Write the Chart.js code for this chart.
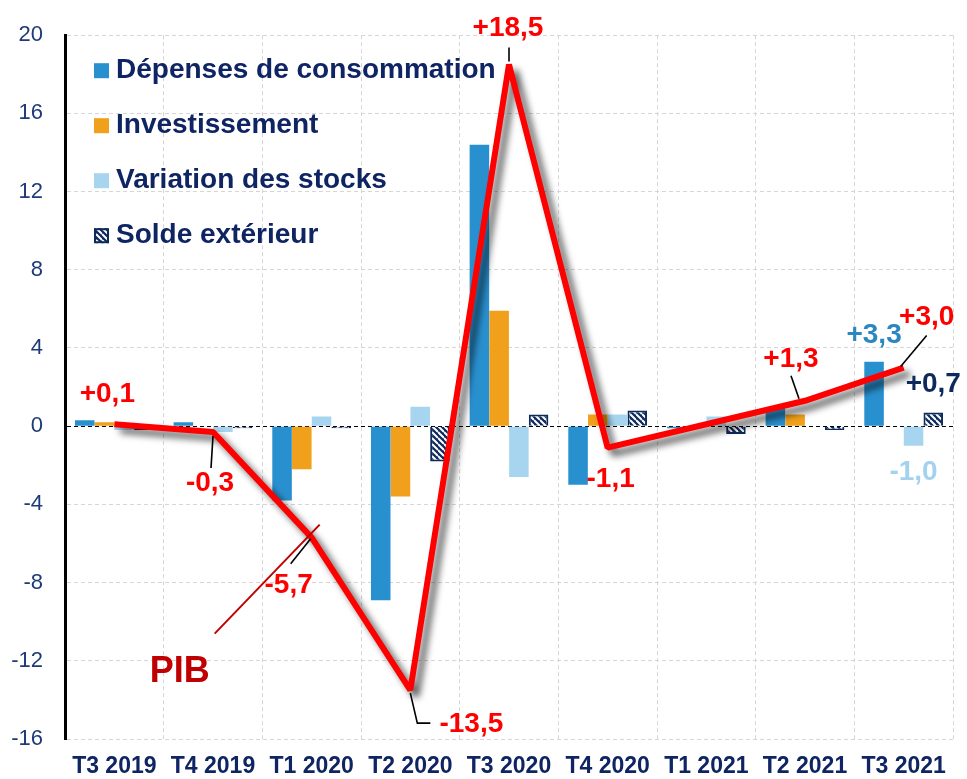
<!DOCTYPE html>
<html>
<head>
<meta charset="utf-8">
<script src="https://cdn.jsdelivr.net/npm/chart.js@4.4.1/dist/chart.umd.min.js"></script>
<style>
  html, body { margin: 0; padding: 0; background: #fff; }
</style>
</head>
<body>
<canvas id="myChart" width="967" height="779"></canvas>
<script>
// quarters and contributions to GDP growth (points)
var trimestres = ["T3 2019", "T4 2019", "T1 2020", "T2 2020", "T3 2020", "T4 2020", "T1 2021", "T2 2021", "T3 2021"];
var consommation = [0.3, 0.2, -3.8, -8.9, 14.4, -3.0, -0.1, 0.9, 3.3];
var investissement = [0.2, 0.0, -2.2, -3.6, 5.9, 0.6, 0.0, 0.6, 0.0];
var stocks = [-0.2, -0.3, 0.5, 1.0, -2.6, 0.6, 0.5, 0.0, -1.0];
var solde = [-0.2, -0.1, -0.1, -1.8, 0.6, 0.8, -0.4, -0.2, 0.7];
var pib = [0.1, -0.3, -5.7, -13.5, 18.5, -1.1, 0.1, 1.3, 3.0];
var yTicks = [-16, -12, -8, -4, 0, 4, 8, 12, 16, 20];

var NAVY = "#0e2a5c";
var TEXT = "#0f2563";

function fmt(v) {
  return (v > 0 ? "+" : "") + v.toFixed(1).replace(".", ",");
}

// hatched fill for the "Solde extérieur" bars
function hatch() {
  var c = document.createElement("canvas");
  c.width = 6; c.height = 6;
  var g = c.getContext("2d");
  g.fillStyle = NAVY;
  g.fillRect(0, 0, 6, 6);
  g.strokeStyle = "#ffffff";
  g.lineWidth = 2;
  g.beginPath();
  for (var k = -1; k <= 1; k++) {
    g.moveTo(0, 6 * k);
    g.lineTo(6, 6 + 6 * k);
  }
  g.stroke();
  return g.createPattern(c, "repeat");
}
var hatchFill = hatch();

// gray drop shadow under the PIB line
var shadowPlugin = {
  id: "ombre",
  beforeDatasetDraw: function(chart, args) {
    if (args.index !== 4) return;
    var ctx = chart.ctx;
    ctx.save();
    ctx.shadowColor = "rgba(0,0,0,0.65)";
    ctx.shadowBlur = 7;
    ctx.shadowOffsetX = 6;
    ctx.shadowOffsetY = 6;
  },
  afterDatasetDraw: function(chart, args) {
    if (args.index !== 4) return;
    chart.ctx.restore();
  }
};

function line(ctx, pts, color, width) {
  ctx.beginPath();
  ctx.strokeStyle = color;
  ctx.lineWidth = width;
  ctx.moveTo(pts[0][0], pts[0][1]);
  for (var i = 1; i < pts.length; i++) ctx.lineTo(pts[i][0], pts[i][1]);
  ctx.stroke();
}

var labelPlugin = {
  id: "etiquettes",
  afterDatasetsDraw: function(chart) {
    var ctx = chart.ctx;
    var area = chart.chartArea;
    var pts = chart.getDatasetMeta(4).data;
    ctx.save();

    // legend inside the plot
    var font = 'bold 28px "Liberation Sans", Arial, sans-serif';
    ctx.font = font;
    ctx.textAlign = "left";
    ctx.textBaseline = "alphabetic";
    for (var i = 0; i < 4; i++) {
      var ds = chart.data.datasets[i];
      var sx = area.left + 29, sy = area.top + 28 + i * 55;
      ctx.fillStyle = ds.backgroundColor;
      ctx.fillRect(sx, sy, 15, 15);
      if (i === 3) {
        ctx.strokeStyle = NAVY;
        ctx.lineWidth = 2;
        ctx.strokeRect(sx + 1, sy + 1, 13, 13);
      }
      ctx.fillStyle = TEXT;
      ctx.fillText(ds.label, sx + 22, sy + 15);
    }

    // PIB value labels and leaders
    var offs = [[-7, -30], [-3, 51], [-23, 48], [61, 34], [-1, -36], [3, 32], null, [-14, -42], [23, -50]];
    var leaders = [
      null,
      [[0, 4], [-2, 36]],
      [[-1, 1], [-21, 26]],
      [[0, 3], [7, 33], [20, 33]],
      [[0, -17], [0, -3]],
      null,
      null,
      [[-6, -2], [-14, -25]],
      [[-3, -1], [23, -32]]
    ];
    ctx.lineJoin = "miter";
    for (var j = 0; j < pts.length; j++) {
      var p = pts[j];
      if (leaders[j]) {
        line(ctx, leaders[j].map(function(o) { return [p.x + o[0], p.y + o[1]]; }), "#000", 1.6);
      }
    }
    ctx.textAlign = "center";
    ctx.textBaseline = "middle";
    ctx.fillStyle = "#ff0000";
    for (j = 0; j < pts.length; j++) {
      if (!offs[j]) continue;
      ctx.fillText(fmt(pib[j]), pts[j].x + offs[j][0], pts[j].y + offs[j][1]);
    }

    // last-quarter component labels
    var b0 = chart.getDatasetMeta(0).data[8];
    var b2 = chart.getDatasetMeta(2).data[8];
    var b3 = chart.getDatasetMeta(3).data[8];
    ctx.fillStyle = "#2b87c0";
    ctx.fillText(fmt(consommation[8]), b0.x, b0.y - 26);
    ctx.fillStyle = NAVY;
    ctx.fillText(fmt(solde[8]), b3.x, b3.y - 28);
    ctx.fillStyle = "#a3d2ef";
    ctx.fillText(fmt(stocks[8]), b2.x, b2.y + 27);

    // PIB tag
    var p2 = pts[2];
    line(ctx, [[p2.x + 8, p2.y - 13], [p2.x - 97, p2.y + 96]], "#c00000", 2);
    ctx.fillStyle = "#c00000";
    ctx.font = 'bold 36px "Liberation Sans", Arial, sans-serif';
    ctx.fillText("PIB", p2.x - 132, p2.y + 134);

    ctx.restore();
  }
};

var chartdata = {
  labels: trimestres,
  datasets: [
    { label: "Dépenses de consommation", data: consommation, backgroundColor: "#2990cf", order: 1 },
    { label: "Investissement", data: investissement, backgroundColor: "#f0a01a", order: 1 },
    { label: "Variation des stocks", data: stocks, backgroundColor: "#a7d5f0", order: 1 },
    { label: "Solde extérieur", data: solde, backgroundColor: hatchFill, borderColor: NAVY, borderWidth: 2, order: 1 },
    {
      type: "line",
      label: "PIB",
      data: pib,
      borderColor: "#ff0000",
      borderWidth: 6,
      borderJoinStyle: "bevel",
      pointRadius: 0,
      tension: 0,
      fill: false,
      order: 0
    }
  ]
};

var options = {
  responsive: false,
  animation: false,
  layout: { padding: { top: 27, right: 14, left: 0, bottom: 0 } },
  categoryPercentage: 0.8,
  barPercentage: 0.99,
  plugins: {
    legend: { display: false },
    tooltip: { enabled: false }
  },
  scales: {
    x: {
      afterFit: function(s) { s.height = 40; },
      grid: { color: "#d6d6d6", lineWidth: 1, drawTicks: false },
      border: { display: false, dash: [4, 3] },
      ticks: {
        color: TEXT,
        padding: 14,
        maxRotation: 0,
        autoSkip: false,
        font: { family: '"Liberation Sans", Arial, sans-serif', size: 23, weight: "bold" }
      }
    },
    y: {
      min: yTicks[0],
      max: yTicks[yTicks.length - 1],
      afterFit: function(s) { s.width = 65; },
      afterBuildTicks: function(s) { s.ticks = yTicks.map(function(v) { return { value: v }; }); },
      grid: {
        color: function(c) { return c.tick && c.tick.value === 0 ? "#000000" : "#d6d6d6"; },
        lineWidth: 1,
        drawTicks: false
      },
      border: { display: true, color: "#000000", width: 3, dash: [4, 3] },
      ticks: {
        color: "#1e3a78",
        padding: 22,
        font: { family: '"Liberation Sans", Arial, sans-serif', size: 22 }
      }
    }
  }
};

var ctx = document.getElementById("myChart");
var chart = new Chart(ctx, {
  type: "bar",
  data: chartdata,
  options: options,
  plugins: [shadowPlugin, labelPlugin]
});
</script>
</body>
</html>
